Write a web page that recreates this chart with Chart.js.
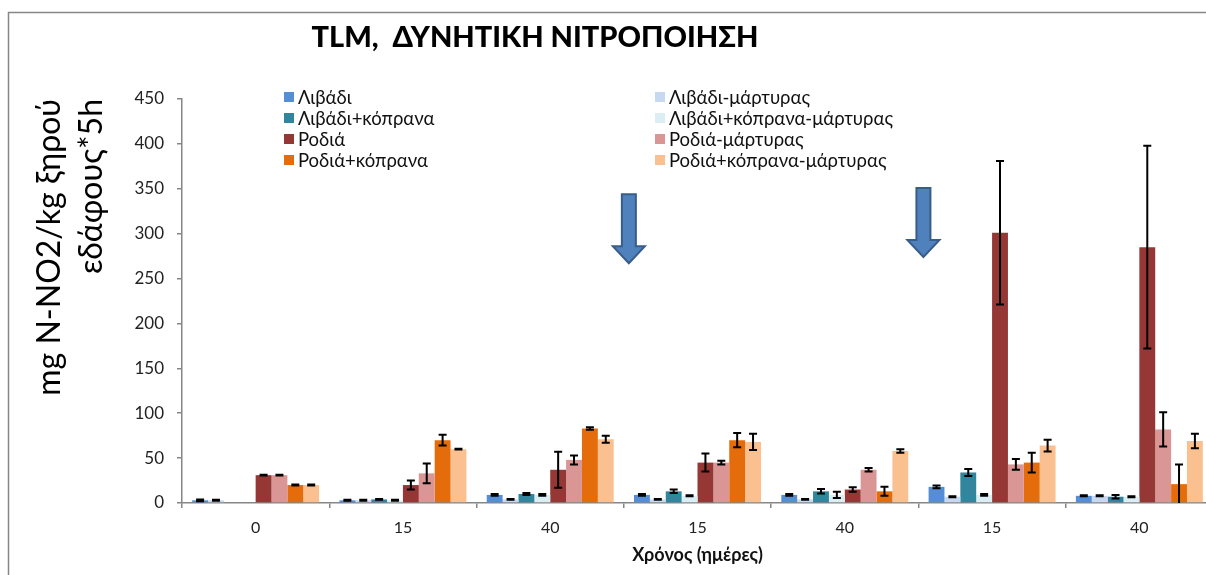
<!DOCTYPE html>
<html>
<head>
<meta charset="utf-8">
<script src="https://cdn.jsdelivr.net/npm/chart.js@4"></script>
<style>
  html, body { margin: 0; padding: 0; overflow: hidden; background: #fff; }
  #wrap { position: absolute; left: 0; top: 0; width: 1214px; height: 575px; }
</style>
</head>
<body>
<div id="wrap"><canvas id="chart" width="1214" height="575"></canvas></div>
<script>
// days after sampling start, three blocks (0, then pairs 15/40)
const days = ["0", "15", "40", "15", "40", "15", "40"];

const seriesNames = [
  "Λιβάδι", "Λιβάδι-μάρτυρας",
  "Λιβάδι+κόπρανα", "Λιβάδι+κόπρανα-μάρτυρας",
  "Ροδιά", "Ροδιά-μάρτυρας",
  "Ροδιά+κόπρανα", "Ροδιά+κόπρανα-μάρτυρας"
];
const seriesColors = [
  "#558ED5", "#C6D9F1", "#31859C", "#DBEEF4",
  "#953735", "#D99694", "#E46C0A", "#FAC090"
];

// mg N-NO2 / kg dry soil * 5h
const livadi      = [3, 3, 9, 9, 9, 18, 8];
const livadiM     = [3, 3, 4, 4, 4, 7, 8];
const livadiK     = [null, 4, 10, 13, 13, 34, 7];
const livadiKM    = [null, 3, 9, 8, 9, 9, 7];
const rodia       = [31, 20, 37, 45, 15, 301, 285];
const rodiaM      = [31, 33, 48, 45, 37, 43, 82];
const rodiaK      = [20, 70, 83, 70, 13, 45, 21];
const rodiaKM     = [20, 60, 71, 68, 58, 64, 69];

// standard errors
const livadiErr   = [1, 0.5, 1, 1, 1, 1.5, 0.5];
const livadiMErr  = [0.5, 0.5, 0.5, 0.5, 0.5, 0.5, 0.5];
const livadiKErr  = [null, 0.5, 1, 2, 2.5, 4, 2];
const livadiKMErr = [null, 0.5, 1, 0.5, 3.5, 1, 0.5];
const rodiaErr    = [0.5, 5, 20, 10, 2.5, 80, 113];
const rodiaMErr   = [0.5, 11, 5, 2, 2, 6, 19];
const rodiaKErr   = [0.5, 6, 1.5, 8, 5, 11, 22];
const rodiaKMErr  = [0.5, 0.5, 4, 9, 2, 6.5, 8];

const yTicks = [0, 50, 100, 150, 200, 250, 300, 350, 400, 450];

const values = [livadi, livadiM, livadiK, livadiKM, rodia, rodiaM, rodiaK, rodiaKM];
const errors = [livadiErr, livadiMErr, livadiKErr, livadiKMErr, rodiaErr, rodiaMErr, rodiaKErr, rodiaKMErr];

const FONT = "Lato, 'Open Sans', sans-serif";

const datasets = values.map((v, i) => ({
  label: seriesNames[i],
  data: v,
  errors: errors[i],
  backgroundColor: seriesColors[i],
  borderWidth: 0,
  categoryPercentage: 0.862,
  barPercentage: 1.0,
}));

// error bars drawn on top of the bars
const errorBars = {
  id: "errorBars",
  afterDatasetsDraw(chart) {
    const ctx = chart.ctx;
    const y = chart.scales.y;
    const area = chart.chartArea;
    ctx.save();
    ctx.strokeStyle = "#000";
    ctx.lineWidth = 2;
    chart.data.datasets.forEach((ds, i) => {
      const meta = chart.getDatasetMeta(i);
      meta.data.forEach((bar, j) => {
        const v = ds.data[j], e = ds.errors[j];
        if (v == null || e == null) return;
        const top = y.getPixelForValue(v + e);
        const bot = Math.min(y.getPixelForValue(v - e), area.bottom);
        const x = bar.x;
        ctx.beginPath();
        ctx.moveTo(x, top); ctx.lineTo(x, bot);
        ctx.moveTo(x - 4, top); ctx.lineTo(x + 4, top);
        if (v - e >= 0) { ctx.moveTo(x - 4, bot); ctx.lineTo(x + 4, bot); }
        ctx.stroke();
      });
    });
    ctx.restore();
  }
};

// title, two-column legend, arrows and outer frame
const decor = {
  id: "decor",
  afterDraw(chart) {
    const ctx = chart.ctx;
    const xs = chart.scales.x, ys = chart.scales.y;
    ctx.save();

    // frame
    ctx.strokeStyle = "#868686";
    ctx.lineWidth = 1.5;
    ctx.strokeRect(8.5, 12.5, 1400, 600);

    // title
    ctx.fillStyle = "#000";
    ctx.font = "900 29px " + FONT;
    ctx.textAlign = "center";
    ctx.textBaseline = "middle";
    ctx.fillText("TLM,  ΔΥΝΗΤΙΚΗ ΝΙΤΡΟΠΟΙΗΣΗ", 535, 38);

    // legend
    ctx.font = "18.5px " + FONT;
    ctx.textAlign = "left";
    const colX = [284, 655], rowY = [97, 118, 139, 160];
    chart.data.datasets.forEach((ds, i) => {
      const cx = colX[i % 2], cy = rowY[Math.floor(i / 2)];
      ctx.fillStyle = ds.backgroundColor;
      ctx.fillRect(cx, cy - 5, 10, 10);
      ctx.fillStyle = "#111";
      ctx.fillText(ds.label, cx + 14, cy + 1);
    });

    // arrows between blocks
    const arrows = [[2, 344, 267], [4, 351, 274]];
    arrows.forEach(([k, vTop, vTip]) => {
      const x = (xs.getPixelForValue(k) + xs.getPixelForValue(k + 1)) / 2 + 5;
      const top = ys.getPixelForValue(vTop), tip = ys.getPixelForValue(vTip);
      const sw = 7, hw = 16, hl = 17;
      ctx.beginPath();
      ctx.moveTo(x - sw, top);
      ctx.lineTo(x + sw, top);
      ctx.lineTo(x + sw, tip - hl);
      ctx.lineTo(x + hw, tip - hl);
      ctx.lineTo(x, tip);
      ctx.lineTo(x - hw, tip - hl);
      ctx.lineTo(x - sw, tip - hl);
      ctx.closePath();
      ctx.fillStyle = "#4F81BD";
      ctx.fill();
      ctx.strokeStyle = "#385D8A";
      ctx.lineWidth = 2;
      ctx.stroke();
    });
    ctx.restore();
  }
};

new Chart(document.getElementById("chart"), {
  type: "bar",
  data: { labels: days, datasets: datasets },
  options: {
    responsive: false,
    animation: false,
    layout: { padding: { left: 8, top: 99, right: 1, bottom: 0 } },
    plugins: {
      legend: { display: false },
      title: { display: false },
      tooltip: { enabled: false },
    },
    scales: {
      x: {
        grid: { offset: true, drawOnChartArea: false, drawTicks: true, tickLength: 5, color: "#868686", lineWidth: 1.5 },
        border: { color: "#868686", width: 1.5 },
        ticks: { color: "#222", padding: 10, font: { family: FONT, size: 16 } },
        title: {
          display: true,
          text: "Χρόνος (ημέρες)",
          color: "#111",
          font: { family: FONT, size: 18, weight: "bold" },
          padding: { top: 4, bottom: 9 },
        },
        afterFit(scale) { scale.height = 72; },
      },
      y: {
        min: 0,
        max: 450,
        afterBuildTicks(scale) { scale.ticks = yTicks.map(v => ({ value: v })); },
        grid: { drawOnChartArea: false, drawTicks: true, tickLength: 5, color: "#868686", lineWidth: 1.5 },
        border: { color: "#868686", width: 1.5 },
        ticks: { color: "#222", padding: 13, font: { family: FONT, size: 17 } },
        title: {
          display: true,
          text: ["mg N-NO2/kg ξηρού", "εδάφους*5h"],
          align: "end",
          color: "#000",
          font: { family: FONT, size: 32, lineHeight: 1.3 },
          padding: { top: 21, bottom: 0 },
        },
        afterFit(scale) { scale.width = 174; },
      },
    },
  },
  plugins: [errorBars, decor],
});
</script>
</body>
</html>
